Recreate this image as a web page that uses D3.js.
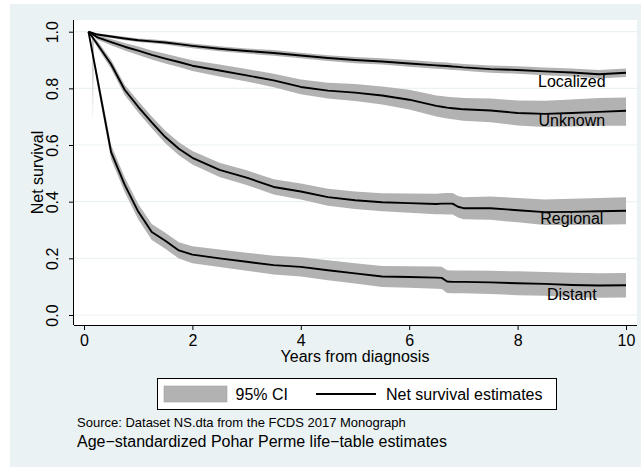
<!DOCTYPE html>
<html>
<head>
<meta charset="utf-8">
<script src="https://cdn.jsdelivr.net/npm/d3@7"></script>
<style>
  html, body { margin: 0; padding: 0; background: #ffffff; }
  svg { display: block; }
  text { font-family: "Liberation Sans", Arial, Helvetica, sans-serif; fill: #000; }
</style>
</head>
<body>
<svg id="chart" width="641" height="467"></svg>
<script>
// ---------------- data ----------------
const years = [0.083, 0.25, 0.5, 0.75, 1, 1.25, 1.5, 1.75, 2, 2.5, 3, 3.5, 4, 4.5, 5, 5.5, 6, 6.5, 6.6, 6.7, 6.8, 6.9, 7, 7.5, 8, 8.5, 9, 9.5, 10];

const localizedEst  = [1.0, 0.990, 0.983, 0.976, 0.970, 0.966, 0.962, 0.956, 0.950, 0.940, 0.932, 0.925, 0.916, 0.907, 0.900, 0.895, 0.888, 0.881, 0.880, 0.879, 0.877, 0.876, 0.874, 0.868, 0.865, 0.860, 0.856, 0.850, 0.855];
const localizedLow  = [1.0, 0.986, 0.978, 0.970, 0.964, 0.959, 0.955, 0.948, 0.942, 0.931, 0.923, 0.915, 0.906, 0.897, 0.889, 0.884, 0.876, 0.869, 0.868, 0.867, 0.865, 0.864, 0.862, 0.855, 0.852, 0.846, 0.842, 0.835, 0.840];
const localizedHigh = [1.0, 0.994, 0.988, 0.982, 0.976, 0.973, 0.969, 0.964, 0.958, 0.949, 0.941, 0.935, 0.926, 0.917, 0.911, 0.906, 0.900, 0.893, 0.892, 0.891, 0.889, 0.888, 0.886, 0.881, 0.878, 0.874, 0.870, 0.865, 0.870];

const unknownEst  = [1.0, 0.980, 0.963, 0.947, 0.933, 0.918, 0.905, 0.893, 0.880, 0.863, 0.846, 0.828, 0.805, 0.792, 0.785, 0.775, 0.760, 0.738, 0.735, 0.732, 0.730, 0.728, 0.726, 0.722, 0.713, 0.710, 0.713, 0.717, 0.721];
const unknownLow  = [1.0, 0.972, 0.952, 0.934, 0.918, 0.902, 0.888, 0.875, 0.861, 0.842, 0.824, 0.804, 0.779, 0.764, 0.755, 0.743, 0.725, 0.701, 0.697, 0.694, 0.691, 0.688, 0.686, 0.680, 0.669, 0.664, 0.665, 0.668, 0.668];
const unknownHigh = [1.0, 0.988, 0.974, 0.960, 0.948, 0.934, 0.922, 0.911, 0.899, 0.884, 0.868, 0.852, 0.831, 0.820, 0.815, 0.807, 0.795, 0.775, 0.773, 0.770, 0.769, 0.768, 0.766, 0.764, 0.757, 0.756, 0.761, 0.766, 0.768];

const regionalEst  = [1.0, 0.955, 0.885, 0.795, 0.735, 0.680, 0.628, 0.587, 0.555, 0.512, 0.485, 0.452, 0.436, 0.416, 0.405, 0.398, 0.395, 0.392, 0.393, 0.393, 0.393, 0.382, 0.377, 0.377, 0.370, 0.363, 0.364, 0.366, 0.368];
const regionalLow  = [1.0, 0.943, 0.869, 0.777, 0.715, 0.659, 0.606, 0.564, 0.531, 0.487, 0.459, 0.425, 0.408, 0.386, 0.374, 0.366, 0.361, 0.356, 0.356, 0.355, 0.355, 0.344, 0.338, 0.336, 0.327, 0.318, 0.318, 0.319, 0.320];
const regionalHigh = [1.0, 0.967, 0.901, 0.813, 0.755, 0.701, 0.650, 0.610, 0.579, 0.537, 0.511, 0.479, 0.464, 0.446, 0.436, 0.430, 0.429, 0.428, 0.430, 0.431, 0.431, 0.420, 0.416, 0.418, 0.413, 0.408, 0.410, 0.413, 0.416];

const distantEst  = [1.0, 0.830, 0.575, 0.460, 0.365, 0.293, 0.262, 0.228, 0.213, 0.200, 0.188, 0.176, 0.170, 0.158, 0.147, 0.136, 0.134, 0.132, 0.131, 0.118, 0.117, 0.117, 0.117, 0.115, 0.112, 0.110, 0.106, 0.104, 0.105];
const distantLow  = [1.0, 0.808, 0.550, 0.434, 0.338, 0.265, 0.234, 0.199, 0.183, 0.169, 0.156, 0.143, 0.136, 0.123, 0.111, 0.099, 0.096, 0.093, 0.092, 0.078, 0.077, 0.077, 0.077, 0.074, 0.070, 0.068, 0.063, 0.061, 0.062];
const distantHigh = [1.0, 0.852, 0.600, 0.486, 0.392, 0.321, 0.290, 0.257, 0.243, 0.231, 0.220, 0.209, 0.204, 0.193, 0.183, 0.173, 0.172, 0.171, 0.170, 0.158, 0.157, 0.157, 0.157, 0.156, 0.154, 0.152, 0.149, 0.147, 0.148];

// thin CI artefact near the start
const spikeYears = [0.150, 0.165, 0.180];
const spikeLow   = [0.990, 0.687, 0.990];
const spikeHigh  = [0.996, 0.996, 0.996];

const seriesNames = ["Localized", "Unknown", "Regional", "Distant"];
const labelYear   = [9, 9, 9, 9];
const labelValue  = [0.805, 0.667, 0.320, 0.053];

const xTicks = [0, 2, 4, 6, 8, 10];
const yTicks = [0, 0.2, 0.4, 0.6, 0.8, 1.0];

const xTitle = "Years from diagnosis";
const yTitle = "Net survival";
const legendLabels = ["95% CI", "Net survival estimates"];
const note1 = "Source: Dataset NS.dta from the FCDS 2017 Monograph";
const note2 = "Age\u2212standardized Pohar Perme life\u2212table estimates";

// ---------------- drawing ----------------
const svg = d3.select("#chart");
const bg = "#eaf2f3";
const bandColor = "#b2b2b2";

svg.append("rect").attr("x", 0).attr("y", 0).attr("width", 641).attr("height", 467).attr("fill", "#ffffff");
svg.append("rect").attr("x", 10).attr("y", 4).attr("width", 631).attr("height", 463).attr("fill", bg);

const plot = { left: 74, top: 20, right: 637, bottom: 325 };
svg.append("rect").attr("x", plot.left).attr("y", plot.top)
  .attr("width", plot.right - plot.left).attr("height", plot.bottom - plot.top).attr("fill", "#ffffff");

const x = d3.scaleLinear().domain([0, 10]).range([84, 626]);
const y = d3.scaleLinear().domain([0, 1]).range([315, 31.7]);

// gridlines
svg.append("g").selectAll("line").data(yTicks).join("line")
  .attr("x1", plot.left).attr("x2", plot.right)
  .attr("y1", d => y(d)).attr("y2", d => y(d))
  .attr("stroke", bg).attr("stroke-width", 1.2);

const series = [
  { est: localizedEst, lo: localizedLow, hi: localizedHigh },
  { est: unknownEst, lo: unknownLow, hi: unknownHigh },
  { est: regionalEst, lo: regionalLow, hi: regionalHigh },
  { est: distantEst, lo: distantLow, hi: distantHigh }
];

const area = d3.area().x(d => x(d.t)).y0(d => y(d.lo)).y1(d => y(d.hi));
const line = d3.line().x(d => x(d.t)).y(d => y(d.v));

const bands = svg.append("g");
series.forEach(s => {
  const pts = years.map((t, i) => ({ t, lo: s.lo[i], hi: s.hi[i] }));
  bands.append("path").attr("d", area(pts)).attr("fill", bandColor).attr("stroke", "none");
});
bands.append("path")
  .attr("d", area(spikeYears.map((t, i) => ({ t, lo: spikeLow[i], hi: spikeHigh[i] }))))
  .attr("fill", bandColor);

const lines = svg.append("g");
series.forEach(s => {
  const pts = years.map((t, i) => ({ t, v: s.est[i] }));
  lines.append("path").attr("d", line(pts)).attr("fill", "none")
    .attr("stroke", "#000").attr("stroke-width", 1.9).attr("stroke-linejoin", "round");
});

// series labels
svg.append("g").selectAll("text").data(seriesNames).join("text")
  .attr("x", (d, i) => x(labelYear[i])).attr("y", (d, i) => y(labelValue[i]))
  .attr("text-anchor", "middle").attr("font-size", 16).text(d => d);

// axes
const xAxis = d3.axisBottom(x).tickValues(xTicks).tickSize(5).tickPadding(5).tickFormat(d3.format("d"));
const gx = svg.append("g").attr("transform", `translate(0,${plot.bottom})`).call(xAxis);
gx.select(".domain").attr("d", `M${plot.left},0.5H${plot.right}`).attr("stroke", "#000");
gx.selectAll(".tick line").attr("stroke", "#000");
gx.selectAll(".tick text").attr("font-size", 16).attr("font-family", '"Liberation Sans", Arial, sans-serif');

const yAxis = d3.axisLeft(y).tickValues(yTicks).tickSize(5).tickFormat(d3.format(".1f"));
const gy = svg.append("g").attr("transform", `translate(${plot.left},0)`).call(yAxis);
gy.select(".domain").attr("d", `M-0.5,${plot.top}V${plot.bottom}`).attr("stroke", "#000");
gy.selectAll(".tick line").attr("stroke", "#000");
gy.selectAll(".tick text")
  .attr("font-size", 16).attr("font-family", '"Liberation Sans", Arial, sans-serif')
  .attr("x", null).attr("dy", null)
  .attr("text-anchor", "middle")
  .attr("transform", "translate(-16,0) rotate(-90)");

// axis titles
svg.append("text").attr("x", (x(0) + x(10)) / 2).attr("y", 362)
  .attr("text-anchor", "middle").attr("font-size", 16).text(xTitle);
svg.append("text").attr("transform", `translate(43,${(plot.top + plot.bottom) / 2}) rotate(-90)`)
  .attr("text-anchor", "middle").attr("font-size", 16).text(yTitle);

// legend
const lg = svg.append("g");
lg.append("rect").attr("x", 157.5).attr("y", 378.5).attr("width", 399).attr("height", 31)
  .attr("fill", "#fff").attr("stroke", "#000").attr("stroke-width", 1);
lg.append("rect").attr("x", 164).attr("y", 386).attr("width", 63).attr("height", 16)
  .attr("fill", bandColor).attr("stroke", "#a0a0a0").attr("stroke-width", 0.6);
lg.append("text").attr("x", 235.5).attr("y", 400).attr("font-size", 16).text(legendLabels[0]);
lg.append("line").attr("x1", 316).attr("x2", 376).attr("y1", 394).attr("y2", 394)
  .attr("stroke", "#000").attr("stroke-width", 1.9);
lg.append("text").attr("x", 386).attr("y", 400).attr("font-size", 16).text(legendLabels[1]);

// notes
svg.append("text").attr("x", 77).attr("y", 427).attr("font-size", 13).text(note1);
svg.append("text").attr("x", 77).attr("y", 447).attr("font-size", 16).text(note2);
</script>
</body>
</html>
